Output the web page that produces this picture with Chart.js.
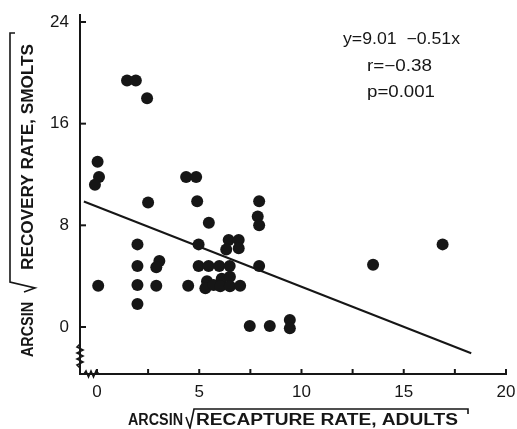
<!DOCTYPE html>
<html>
<head>
<meta charset="utf-8">
<script src="https://cdn.jsdelivr.net/npm/chart.js@4.4.0/dist/chart.umd.min.js"></script>
<style>
  html, body { margin: 0; padding: 0; background: #fff; }
</style>
</head>
<body>
<canvas id="scatter_chart" width="517" height="429"></canvas>
<script>
// arcsin sqrt(recapture rate, adults) vs arcsin sqrt(recovery rate, smolts)
var adultRecapture = [1.47, 1.9, 2.45, 0.03, 0.1, -0.1, 2.5, 4.36, 4.85, 4.9,
  1.98, 1.98, 1.98, 1.98, 3.05, 2.9, 2.9, 0.06, 4.46, 4.97, 5.47,
  7.93, 7.86, 7.93, 6.44, 6.93, 6.32, 6.93,
  4.97, 5.46, 5.98, 6.49, 7.93,
  5.38, 5.3, 5.7, 6.1, 6.03, 6.5, 6.5, 7.0,
  7.47, 8.45, 9.43, 9.43, 13.5, 16.9];
var smoltRecovery = [19.4, 19.4, 18.0, 13.0, 11.8, 11.2, 9.8, 11.8, 11.8, 9.9,
  6.5, 4.8, 3.3, 1.8, 5.2, 4.7, 3.25, 3.25, 3.25, 6.5, 8.2,
  9.9, 8.7, 8.0, 6.85, 6.85, 6.1, 6.2,
  4.8, 4.8, 4.8, 4.8, 4.8,
  3.6, 3.05, 3.3, 3.8, 3.2, 3.95, 3.2, 3.25,
  0.08, 0.08, 0.55, -0.1, 4.9, 6.5];

// regression line as drawn
var fitX = [-0.64, 18.3];
var fitY = [9.87, -2.07];

var xTicks = [0, 5, 10, 15, 20];
var xMinorTicks = [0, 2.5, 5, 7.5, 10, 12.5, 15, 17.5, 20];
var yTicks = [0, 8, 16, 24];
var statLines = ["y=9.01  \u22120.51x", "r=\u22120.38", "p=0.001"];

var ink = '#161616';
var tickFont = '17px "Liberation Sans", Arial, sans-serif';

function stretchText(ctx, text, x, y, w) {
  var m = ctx.measureText(text).width;
  ctx.save();
  ctx.translate(x, y);
  ctx.scale(w / m, 1);
  ctx.fillText(text, 0, 0);
  ctx.restore();
}

var decorations = {
  id: 'decorations',
  afterDraw: function(chart) {
    var ctx = chart.ctx, xs = chart.scales.x, ys = chart.scales.y;
    var x0 = xs.left, y0 = ys.bottom;
    ctx.save();
    ctx.strokeStyle = ink;
    ctx.fillStyle = ink;
    ctx.lineWidth = 2;

    // inward tick marks
    xMinorTicks.forEach(function(v) {
      var px = xs.getPixelForValue(v);
      ctx.beginPath(); ctx.moveTo(px, y0); ctx.lineTo(px, y0 - 5); ctx.stroke();
    });
    yTicks.forEach(function(v) {
      var py = ys.getPixelForValue(v);
      ctx.beginPath(); ctx.moveTo(x0, py); ctx.lineTo(x0 + 6, py); ctx.stroke();
    });

    // tick labels
    ctx.font = tickFont;
    ctx.textBaseline = 'middle';
    ctx.textAlign = 'center';
    xTicks.forEach(function(v) {
      ctx.fillText(String(v), xs.getPixelForValue(v), y0 + 18);
    });
    ctx.textAlign = 'right';
    yTicks.forEach(function(v) {
      ctx.fillText(String(v), x0 - 11, ys.getPixelForValue(v));
    });

    // axis breaks
    ctx.lineWidth = 1.6;
    ctx.beginPath();
    ctx.moveTo(x0, y0 - 30);
    for (var i = 0; i < 7; i++) {
      ctx.lineTo(x0 + (i % 2 ? 3 : -3), y0 - 27 + i * 3);
    }
    ctx.lineTo(x0, y0 - 6);
    ctx.stroke();
    ctx.beginPath();
    ctx.moveTo(x0 + 4, y0);
    for (var j = 0; j < 5; j++) {
      ctx.lineTo(x0 + 6 + j * 2.5, y0 + (j % 2 ? 3 : -3));
    }
    ctx.lineTo(x0 + 19, y0);
    ctx.stroke();

    // stats box
    ctx.font = '16px "Liberation Sans", Arial, sans-serif';
    ctx.textAlign = 'left';
    stretchText(ctx, statLines[0], 343, 40, 117);
    stretchText(ctx, statLines[1], 367, 67, 65);
    stretchText(ctx, statLines[2], 367, 93, 68);

    // x title with radical
    ctx.font = 'bold 16px "Liberation Sans", Arial, sans-serif';
    stretchText(ctx, 'ARCSIN', 128, 421, 55);
    ctx.lineWidth = 1.6;
    ctx.beginPath();
    ctx.moveTo(186, 417); ctx.lineTo(190, 428); ctx.lineTo(194, 409);
    ctx.lineTo(468, 409); ctx.lineTo(468, 414);
    ctx.stroke();
    stretchText(ctx, 'RECAPTURE RATE, ADULTS', 196, 421, 262);

    // y title with radical (rotated)
    ctx.save();
    ctx.rotate(-Math.PI / 2);
    stretchText(ctx, 'ARCSIN', -357, 29, 55);
    ctx.beginPath();
    ctx.moveTo(-292, 24); ctx.lineTo(-288, 35); ctx.lineTo(-282, 10);
    ctx.lineTo(-33, 10); ctx.lineTo(-33, 15);
    ctx.stroke();
    stretchText(ctx, 'RECOVERY RATE, SMOLTS', -270, 29, 226);
    ctx.restore();

    ctx.restore();
  }
};

var points = adultRecapture.map(function(x, i) { return {x: x, y: smoltRecovery[i]}; });
var fitLine = fitX.map(function(x, i) { return {x: x, y: fitY[i]}; });

var ctx = document.getElementById('scatter_chart').getContext('2d');
new Chart(ctx, {
  type: 'scatter',
  data: {
    datasets: [
      {
        label: 'Sites',
        data: points,
        backgroundColor: ink,
        borderWidth: 0,
        pointRadius: 6,
        pointHoverRadius: 6
      },
      {
        type: 'line',
        label: 'Fit',
        data: fitLine,
        borderColor: ink,
        borderWidth: 2,
        pointRadius: 0,
        fill: false
      }
    ]
  },
  options: {
    responsive: false,
    animation: false,
    layout: { autoPadding: false, padding: { top: 15, right: 11, left: 0, bottom: 0 } },
    plugins: { legend: { display: false }, tooltip: { enabled: false } },
    scales: {
      x: {
        type: 'linear',
        min: -0.83,
        max: 20,
        afterFit: function(s) { s.height = 55; },
        grid: { drawOnChartArea: false, drawTicks: false },
        border: { display: true, color: ink, width: 2 },
        ticks: { display: false }
      },
      y: {
        type: 'linear',
        min: -3.7,
        max: 24.55,
        afterFit: function(s) { s.width = 80; },
        grid: { drawOnChartArea: false, drawTicks: false },
        border: { display: true, color: ink, width: 2 },
        ticks: { display: false }
      }
    }
  },
  plugins: [decorations]
});
</script>
</body>
</html>
